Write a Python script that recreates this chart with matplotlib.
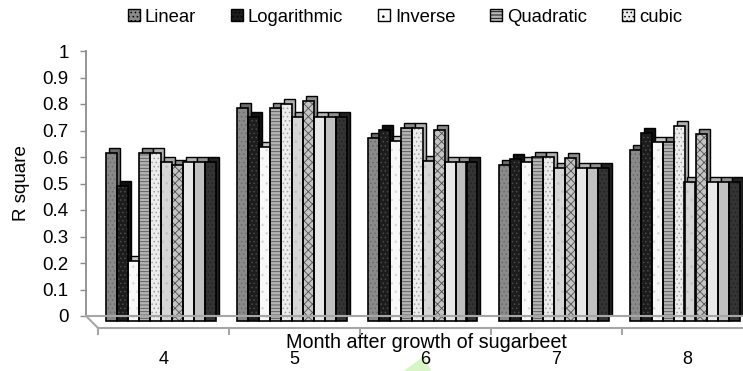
import numpy as np
import matplotlib
matplotlib.use("Agg")
import matplotlib.pyplot as plt
from matplotlib.transforms import ScaledTranslation
from matplotlib.patches import Patch, Polygon
from matplotlib.lines import Line2D

plt.rcParams['font.family'] = ['Liberation Sans', 'DejaVu Sans']
plt.rcParams['hatch.linewidth'] = 0.6

months = ['4', '5', '6', '7', '8']
series_names = ['Linear', 'Logarithmic', 'Inverse', 'Quadratic', 'cubic',
                'Compound', 'Power', 'S', 'Growth', 'Exponential']
linear      = [0.635, 0.805, 0.690, 0.588, 0.645]
logarithmic = [0.510, 0.770, 0.720, 0.610, 0.708]
inverse     = [0.225, 0.655, 0.680, 0.600, 0.674]
quadratic   = [0.635, 0.805, 0.727, 0.618, 0.674]
cubic       = [0.635, 0.820, 0.727, 0.618, 0.734]
compound    = [0.600, 0.770, 0.605, 0.577, 0.524]
power       = [0.588, 0.830, 0.720, 0.614, 0.705]
s_curve     = [0.600, 0.770, 0.600, 0.577, 0.524]
growth      = [0.600, 0.770, 0.600, 0.577, 0.524]
exponential = [0.600, 0.770, 0.600, 0.577, 0.524]
all_series = [linear, logarithmic, inverse, quadratic, cubic,
              compound, power, s_curve, growth, exponential]
legend_count = 5
yticks = [0, 0.1, 0.2, 0.3, 0.4, 0.5, 0.6, 0.7, 0.8, 0.9, 1]
ytick_labels = ['0', '0.1', '0.2', '0.3', '0.4', '0.5', '0.6', '0.7', '0.8', '0.9', '1']

faces = ['#8a8a8a', '#1c1c1c', '#f8f8f8', '#b4b4b4', '#ececec',
         '#d6d6d6', '#c4c4c4', '#e8e8e8', '#c0c0c0', '#343434']
hatch_cols = ['#6a6a6a', '#4a4a4a', '#d8d8d8', '#555555', '#a0a0a0',
              '#c0c0c0', '#505050', '#e8e8e8', '#c0c0c0', '#202020']
hatches = ['....', '....', '..', '-----', '....', '..', 'xxxx', None, None, '....']
depth_cols = ['#6a6a6a', '#101010', '#c8c8c8', '#8a8a8a', '#b0b0b0',
              '#a8a8a8', '#8c8c8c', '#b4b4b4', '#909090', '#202020']

W, H = 743, 371
fig = plt.figure(figsize=(W / 100, H / 100), dpi=100)
ax_left, ax_right = 98, 743
y0, y1 = 316, 51
ax = fig.add_axes([ax_left / W, (H - y0) / H, (ax_right - ax_left) / W, (y0 - y1) / H])
cat_w = 131.0
ax.set_xlim(-0.5, -0.5 + (ax_right - ax_left) / cat_w)
ax.set_ylim(0, 1)
ax.patch.set_alpha(0)

n = len(all_series)
bw = 11.0 / cat_w
x = np.arange(len(months))
dx, dy = 3, 5
front_tr = ax.transData + ScaledTranslation(-dx / 100, -dy / 100, fig.dpi_scale_trans)

# depth (back) faces
for j, vals in enumerate(all_series):
    pos = x + (j - (n - 1) / 2) * bw
    ax.bar(pos, vals, bw, color=depth_cols[j], edgecolor='black', linewidth=1.0, zorder=2)
# front faces
for j, vals in enumerate(all_series):
    pos = x + (j - (n - 1) / 2) * bw
    b1 = ax.bar(pos, vals, bw, color=faces[j], edgecolor=hatch_cols[j],
                hatch=hatches[j], linewidth=0, zorder=3)
    b2 = ax.bar(pos, vals, bw, fill=False, edgecolor='black', linewidth=1.2, zorder=4)
    for p in list(b1.patches) + list(b2.patches):
        p.set_transform(front_tr)
        p.set_clip_on(False)

# axes styling
for sp in ['top', 'right', 'bottom']:
    ax.spines[sp].set_visible(False)
ax.spines['left'].set_position(('outward', 12 * 0.72))
ax.spines['left'].set_color('#8c8c8c')
ax.spines['left'].set_linewidth(1.3)
ax.set_yticks(yticks)
ax.set_yticklabels(ytick_labels)
ax.tick_params(axis='y', direction='out', length=4.5, width=1.0, color='#8c8c8c',
               labelsize=13.5, pad=8)
ax.set_xticks(x)
ax.set_xticklabels(months)
ax.tick_params(axis='x', length=0, labelsize=13, pad=25.5)
ax.set_ylabel('R square', fontsize=13.5, labelpad=9)
ax.set_xlabel('Month after growth of sugarbeet', fontsize=14.2)
ax.xaxis.set_label_coords((426 - ax_left) / (ax_right - ax_left), (y0 - 333) / (y0 - y1))

# 3D floor
fl = '#a6a6a6'
def px(xp, yp):
    return (xp / W, (H - yp) / H)
fig.add_artist(Line2D([86 / W, 1.0], [(H - 316) / H] * 2, color=fl, lw=1.5,
                      transform=fig.transFigure, zorder=1))
fig.add_artist(Line2D([86 / W, 98 / W], [(H - 316) / H, (H - 328) / H], color=fl, lw=1.5,
                      transform=fig.transFigure))
fig.add_artist(Line2D([98 / W, 1.0], [(H - 328) / H] * 2, color=fl, lw=1.5,
                      transform=fig.transFigure))
for b in np.arange(len(months)) - 0.5:
    xs = ax.transData.transform((b, 0))[0]
    fig.add_artist(Line2D([xs / W, xs / W], [(H - 328) / H, (H - 334) / H], color=fl, lw=1.5,
                          transform=fig.transFigure))

# small green mark near bottom
fig.add_artist(Polygon([px(404, 371), px(424, 356), px(431, 371)], closed=True,
                       facecolor='#d8f5c8', edgecolor='none', transform=fig.transFigure,
                       zorder=0))

# legend
handles = [Patch(facecolor=faces[j], edgecolor='black', hatch=hatches[j], linewidth=1.0)
           for j in range(legend_count)]
fig.legend(handles, series_names[:legend_count], loc='center', ncol=legend_count,
           bbox_to_anchor=(405 / W, 1 - 17 / H), frameon=False, fontsize=13.3,
           handlelength=0.65, handleheight=0.65, handletextpad=0.25, columnspacing=1.9,
           borderaxespad=0)

fig.savefig('out.png', dpi=100)
